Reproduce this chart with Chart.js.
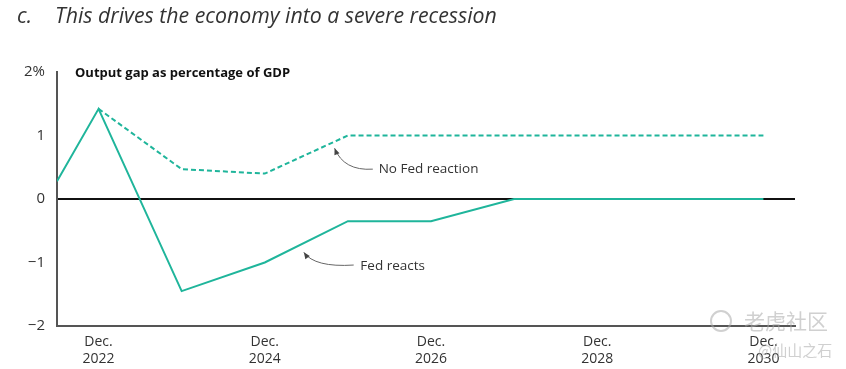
<!DOCTYPE html>
<html>
<head>
<meta charset="utf-8">
<script src="https://cdn.jsdelivr.net/npm/chart.js@4"></script>
<style>
  html, body { margin: 0; padding: 0; background: #fff; }
  #wrap { width: 846px; height: 369px; position: relative; }
</style>
</head>
<body>
<div id="wrap"><canvas id="chart" width="846" height="369"></canvas></div>
<script>
// data
const periods = ["Jun 2022", "Dec 2022", "Dec 2023", "Dec 2024", "Dec 2025", "Dec 2026", "Dec 2027", "Dec 2028", "Dec 2029", "Dec 2030"]
const fedReacts = [0.28, 1.42, -1.45, -1.0, -0.35, -0.35, 0, 0, 0, 0]
const noFedReaction = [null, 1.42, 0.47, 0.4, 1.0, 1.0, 1.0, 1.0, 1.0, 1.0]
const tickYears = [2022, 2024, 2026, 2028, 2030]
const yTicks = [-2, -1, 0, 1, 2]

const teal = "#1fb59b"
const textCol = "#333333"
const font = "'Open Sans', 'Noto Sans', sans-serif"

// month-based position on a year axis
const monthNames = ["Jan", "Feb", "Mar", "Apr", "May", "Jun", "Jul", "Aug", "Sep", "Oct", "Nov", "Dec"]
function toYear(label) {
  const [m, y] = label.split(" ")
  return Number(y) + monthNames.indexOf(m) / 12
}
const xs = periods.map(toYear)
const decX = (y) => y + 11 / 12

const series = (vals) => vals.map((v, i) => (v === null ? null : { x: xs[i], y: v })).filter(Boolean)

const notes = [
  { text: "No Fed reaction", at: [decX(2025) + 0.37, 0.47], from: [decX(2025) + 0.3, 0.47], ctrl: [decX(2024) + 0.95, 0.44], tip: [decX(2024) + 0.84, 0.8] },
  { text: "Fed reacts", at: [decX(2025) + 0.15, -1.06], from: [decX(2025) + 0.07, -1.04], ctrl: [decX(2024) + 0.6, -1.08], tip: [decX(2024) + 0.47, -0.84] },
]

const extras = {
  id: "extras",
  afterDraw(chart) {
    const c = chart.ctx
    const xs_ = chart.scales.x, ys_ = chart.scales.y
    const px = (p) => [xs_.getPixelForValue(p[0]), ys_.getPixelForValue(p[1])]
    c.save()
    // title
    c.fillStyle = textCol
    c.textBaseline = "middle"
    c.font = "italic 21.3px " + font
    c.fillText("c.", 17, 17)
    c.fillText("This drives the economy into a severe recession", 55, 17)
    // chart subtitle
    c.fillStyle = "#111"
    c.font = "bold 13px " + font
    c.fillText("Output gap as percentage of GDP", 75, 73)
    // annotations
    notes.forEach((n) => {
      const [tx, ty] = px(n.at)
      c.fillStyle = textCol
      c.font = "13.5px " + font
      c.textBaseline = "middle"
      c.fillText(n.text, tx, ty)
      const [fx, fy] = px(n.from), [cx, cy] = px(n.ctrl), [ex, ey] = px(n.tip)
      c.strokeStyle = "#666"
      c.lineWidth = 1
      c.beginPath()
      c.moveTo(fx, fy)
      c.quadraticCurveTo(cx, cy, ex, ey)
      c.stroke()
      const ang = Math.atan2(ey - cy, ex - cx)
      c.fillStyle = "#444"
      c.beginPath()
      c.moveTo(ex, ey)
      c.lineTo(ex - 7 * Math.cos(ang - 0.4), ey - 7 * Math.sin(ang - 0.4))
      c.lineTo(ex - 7 * Math.cos(ang + 0.4), ey - 7 * Math.sin(ang + 0.4))
      c.closePath()
      c.fill()
    })
    // watermark
    c.fillStyle = "rgba(170,170,170,0.55)"
    c.font = "21px 'Noto Sans CJK SC'"
    c.fillText("老虎社区", 744, 321)
    c.strokeStyle = "rgba(170,170,170,0.55)"
    c.lineWidth = 2
    c.beginPath()
    c.arc(721, 321, 10, 0, Math.PI * 2)
    c.stroke()
    c.font = "15px 'Noto Sans CJK SC'"
    c.fillText("@仙山之石", 758, 350)
    c.restore()
  },
}

new Chart(document.getElementById("chart"), {
  type: "line",
  data: {
    datasets: [
      {
        label: "Fed reacts",
        data: series(fedReacts),
        borderColor: teal,
        borderWidth: 2,
        pointRadius: 0,
        tension: 0,
      },
      {
        label: "No Fed reaction",
        data: series(noFedReaction),
        borderColor: teal,
        borderWidth: 2,
        borderDash: [5, 3],
        pointRadius: 0,
        tension: 0,
      },
    ],
  },
  options: {
    responsive: false,
    animation: false,
    layout: { padding: { left: 0, right: 51, top: 72, bottom: 0 } },
    plugins: { legend: { display: false }, tooltip: { enabled: false } },
    scales: {
      x: {
        type: "linear",
        min: xs[0],
        max: decX(2030) + 0.38,
        afterBuildTicks: (s) => { s.ticks = tickYears.map((y) => ({ value: decX(y) })) },
        afterFit: (s) => { s.height = 43 },
        grid: { display: false },
        border: { display: true, color: "#555", width: 2 },
        ticks: {
          color: textCol,
          font: { size: 14, family: font, lineHeight: 1.2 },
          padding: 0,
          maxRotation: 0,
          callback: (v) => ["Dec.", String(Math.round(v - 11 / 12))],
        },
      },
      y: {
        min: -2,
        max: 2,
        afterBuildTicks: (s) => { s.ticks = yTicks.map((v) => ({ value: v })) },
        afterFit: (s) => { s.width = 57 },
        grid: {
          drawTicks: false,
          color: (ctx) => (ctx.tick && ctx.tick.value === 0 ? "#111" : "rgba(0,0,0,0)"),
          lineWidth: 2,
        },
        border: { display: true, color: "#555", width: 2 },
        ticks: {
          color: textCol,
          font: { size: 15, family: font },
          padding: 12,
          callback: (v) => (v === 2 ? "2%" : v < 0 ? "\u2212" + Math.abs(v) : String(v)),
        },
      },
    },
  },
  plugins: [extras],
})
</script>
</body>
</html>
